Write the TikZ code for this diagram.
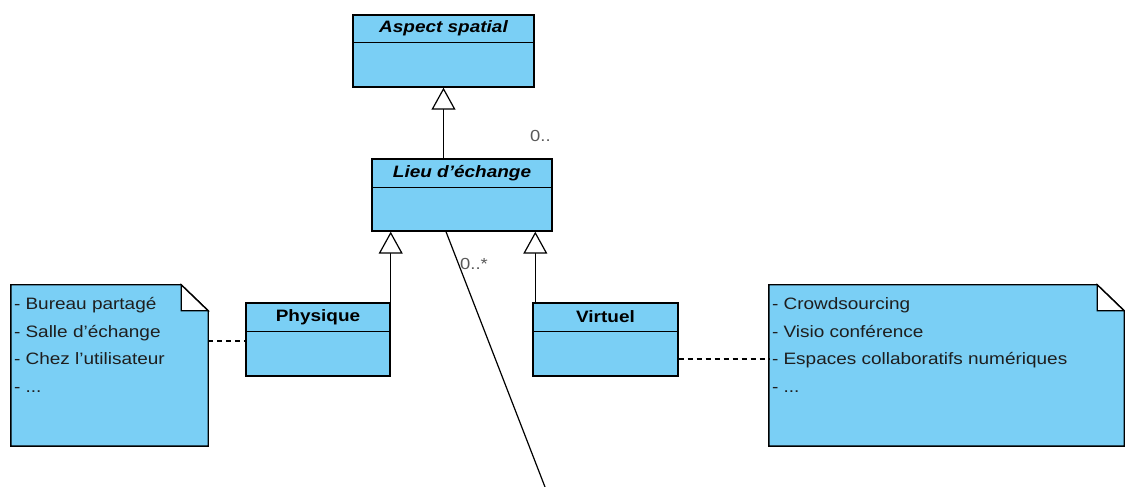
\documentclass[tikz,border=0pt]{standalone}
\usepackage{fontspec}
\setmainfont{Liberation Sans}[FakeStretch=1.15]
\usetikzlibrary{calc}
\usetikzlibrary{arrows.meta}
\definecolor{umlblue}{RGB}{122,207,245}
\definecolor{notegrey}{RGB}{30,30,30}
\newcommand{\titlesize}{\fontsize{16.5}{20}\selectfont\bfseries}
\newcommand{\notesize}{\fontsize{16.5}{20}\selectfont}
\newcommand{\etcdots}{...}
\tikzset{classbox/.style={draw,fill=umlblue,line width=1.4pt,inner sep=0pt},
	notebox/.style={inner sep=0pt},
	inherit/.style={line width=1.3pt,-{Triangle[fill=white,length=22pt,width=24pt,line width=1.2pt]}},
	noteline/.style={line width=1.3pt,dash pattern=on 5pt off 4pt},
	mult/.style={text=black!65,font=\fontsize{16}{18}\selectfont,inner sep=0pt}}

\begin{document}
\begin{tikzpicture}[x=1pt,y=1pt]

		\useasboundingbox (0,0) rectangle (1125,487);

		% classes
		\node [classbox,minimum width=181pt,minimum height=72pt] (aspect) at (443.5,436) {};
		\node [classbox,minimum width=180pt,minimum height=72pt] (lieu) at (462,292) {};
		\node [classbox,minimum width=144pt,minimum height=73pt] (physique) at (318,147.5) {};
		\node [classbox,minimum width=145pt,minimum height=73pt] (virtuel) at (605.5,147.5) {};

		\draw [line width=1.4pt] ($(aspect.north west)+(0,-28)$) -- ($(aspect.north east)+(0,-28)$);
		\draw [line width=1.4pt] ($(lieu.north west)+(0,-29)$) -- ($(lieu.north east)+(0,-29)$);
		\draw [line width=1.4pt] ($(physique.north west)+(0,-29)$) -- ($(physique.north east)+(0,-29)$);
		\draw [line width=1.4pt] ($(virtuel.north west)+(0,-29)$) -- ($(virtuel.north east)+(0,-29)$);

		\node [font=\titlesize\itshape] (aspectname) at ($(aspect.north)+(0,-14)$) {Aspect spatial};
		\node [font=\titlesize\itshape] (lieuname) at ($(lieu.north)+(0,-14.5)$) {Lieu d'échange};
		\node [font=\titlesize] (physiquename) at ($(physique.north)+(0,-14.5)$) {Physique};
		\node [font=\titlesize] (virtuelname) at ($(virtuel.north)+(0,-14.5)$) {Virtuel};

		% notes
		\node [notebox,minimum width=197pt,minimum height=161pt] (lnote) at (109.5,121.5) {};
		\node [notebox,minimum width=355pt,minimum height=161pt] (rnote) at (946.5,121.5) {};

		\foreach \n in {lnote,rnote} {
			\filldraw [fill=umlblue,line width=1.4pt] (\n.south west) -- (\n.north west)
				-- ($(\n.north east)+(-27,0)$) -- ($(\n.north east)+(0,-26)$) -- (\n.south east) -- cycle;
			\filldraw [fill=white,line width=1.4pt] ($(\n.north east)+(-27,0)$)
				-- ($(\n.north east)+(-27,-26)$) -- ($(\n.north east)+(0,-26)$) -- cycle;
		}

		\foreach \t [count=\i] in {- Bureau partagé,- Salle d'échange,- Chez l'utilisateur,- \etcdots}
			\node [anchor=base west,inner sep=0pt,font=\notesize,text=notegrey] (lnote-\i)
				at ($(lnote.north west)+(3,-25-27.5*\i+27.5)$) {\t};

		\foreach \t [count=\i] in {- Crowdsourcing,- Visio conférence,- Espaces collaboratifs numériques,- \etcdots}
			\node [anchor=base west,inner sep=0pt,font=\notesize,text=notegrey] (rnote-\i)
				at ($(rnote.north west)+(3,-25-27.5*\i+27.5)$) {\t};

		% generalisations
		\draw [inherit] (lieu.north -| aspect.south) -- (aspect.south);
		\draw [inherit] (physique.north east) -- (physique.north east |- lieu.south);
		\coordinate (vtop) at ($(virtuel.north west)+(3,0)$);
		\draw [inherit] (vtop) -- (vtop |- lieu.south);

		% note links
		\draw [noteline] (lnote.east |- 0,146) -- (physique.west |- 0,146);
		\draw [noteline] (virtuel.east |- 0,128) -- (rnote.west |- 0,128);

		% association
		\coordinate (assocend) at (545,0);
		\draw [line width=1.2pt] ($(lieu.south)+(-16,0)$) -- (assocend);
		\node [mult,anchor=base west] (multlieu) at (460,217) {0..*};
		\node [mult,anchor=base west] (multtop) at (530,345) {0..};

	\end{tikzpicture}
\end{document}
